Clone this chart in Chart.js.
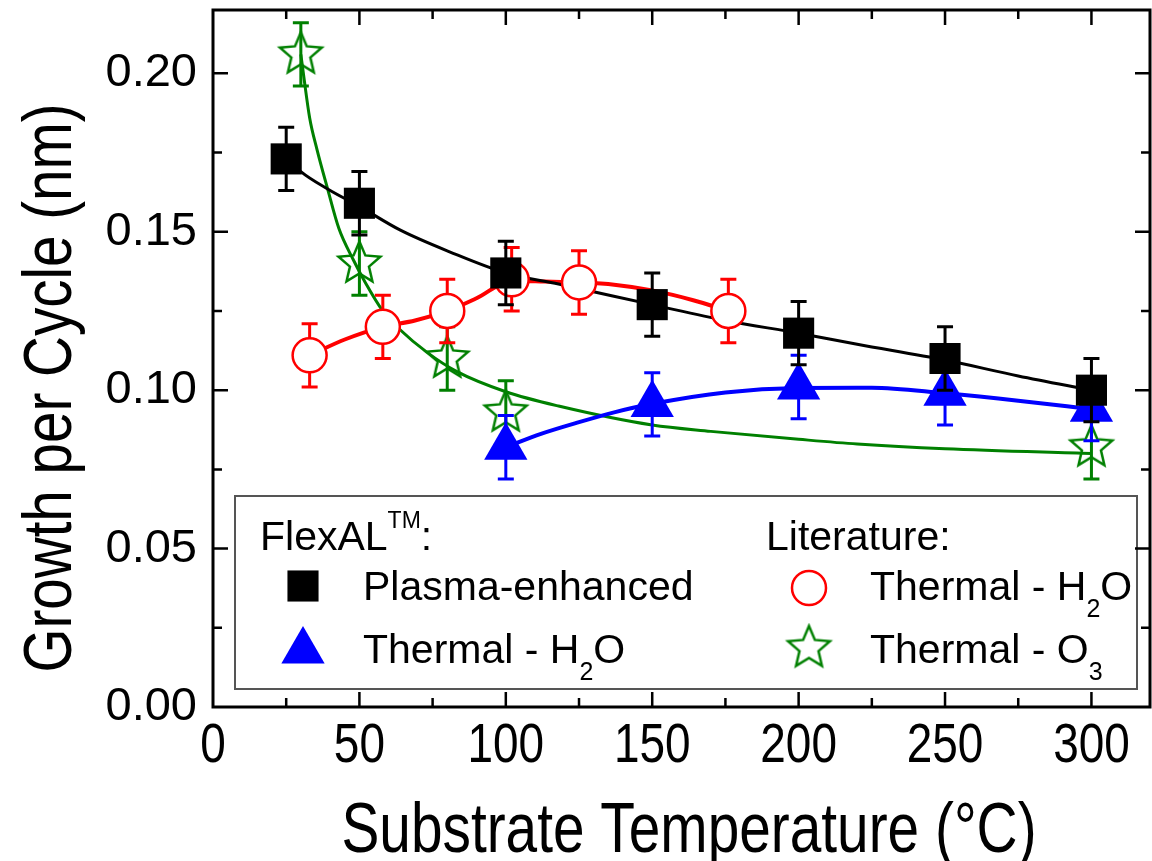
<!DOCTYPE html>
<html>
<head>
<meta charset="utf-8">
<title>Growth per Cycle vs Substrate Temperature</title>
<script src="https://cdn.jsdelivr.net/npm/chart.js@4.4.1/dist/chart.umd.min.js"></script>
<style>
    html, body { margin: 0; padding: 0; background: #fff; }
    #chart { display: block; }
</style>
</head>
<body>
<canvas id="chart" width="1152" height="861"></canvas>
<script>
// Axis ticks
const xTicks = [0, 50, 100, 150, 200, 250, 300];
const yTicks = [0.00, 0.05, 0.10, 0.15, 0.20];
const xTitle = 'Substrate Temperature (°C)';
const yTitle = 'Growth per Cycle (nm)';

// FlexAL - plasma-enhanced (black squares)
const tempPE = [25, 50, 100, 150, 200, 250, 300];
const gpcPE = [0.173, 0.159, 0.137, 0.127, 0.118, 0.110, 0.100];
const errPE = [0.010, 0.010, 0.010, 0.010, 0.010, 0.010, 0.010];

// FlexAL - thermal H2O (blue triangles)
const tempTH = [100, 150, 200, 250, 300];
const gpcTH = [0.082, 0.0955, 0.101, 0.099, 0.094];
const errTH = [0.010, 0.010, 0.010, 0.010, 0.010];

// Literature - thermal H2O (red circles)
const tempLitH2O = [33, 58, 80, 102, 125, 176];
const gpcLitH2O = [0.111, 0.120, 0.125, 0.135, 0.134, 0.125];
const errLitH2O = [0.010, 0.010, 0.010, 0.010, 0.010, 0.010];

// Literature - thermal O3 (green stars)
const tempLitO3 = [30, 50, 80, 100, 300];
const gpcLitO3 = [0.206, 0.140, 0.110, 0.093, 0.082];
const errLitO3 = [0.010, 0.010, 0.010, 0.010, 0.010];

// Guide curves
const fitPE_T = [25, 30, 39, 50, 64, 81, 100, 118, 150, 175, 200, 220, 250, 275, 300];
const fitPE_G = [0.1735, 0.169, 0.1636, 0.158, 0.1505, 0.1436, 0.137, 0.1335, 0.127, 0.122, 0.118, 0.1145, 0.1095, 0.1045, 0.100];
const fitTH_T = [100, 112, 125, 137, 150, 175, 200, 225, 250, 275, 300];
const fitTH_G = [0.082, 0.0862, 0.0899, 0.0930, 0.0957, 0.0993, 0.1007, 0.1008, 0.099, 0.0967, 0.094];
const fitLitH2O_T = [33, 45, 58, 69, 80, 90, 102, 113, 125, 137, 150, 164, 176];
const fitLitH2O_G = [0.111, 0.116, 0.120, 0.122, 0.125, 0.129, 0.1345, 0.1343, 0.134, 0.1333, 0.1315, 0.1284, 0.125];
const fitLitO3_T = [30, 31, 33, 35.5, 39, 43, 48, 52, 58, 64, 73, 83, 100, 118, 150, 170, 200, 220, 250, 300];
const fitLitO3_G = [0.206, 0.199, 0.186, 0.176, 0.164, 0.151, 0.141, 0.134, 0.125, 0.119, 0.112, 0.106, 0.0995, 0.095, 0.089, 0.087, 0.0845, 0.083, 0.0815, 0.080];

const SANS = '"Liberation Sans", Arial, sans-serif';
const BLACK = '#000000', BLUE = '#0000ff', RED = '#ff0000', GREEN = '#008000';

const toPoints = (xs, ys) => xs.map((x, i) => ({ x: x, y: ys[i] }));

// 5-point open star used as point style
function makeStar(rOuter, rInner, color, lw) {
    const size = Math.ceil(2 * (rOuter + lw)) + 2;
    const c = document.createElement('canvas');
    c.width = size;
    c.height = size;
    const g = c.getContext('2d');
    g.translate(size / 2, size / 2);
    g.beginPath();
    for (let i = 0; i < 10; i++) {
        const r = i % 2 ? rInner : rOuter;
        const a = -Math.PI / 2 + i * Math.PI / 5;
        g.lineTo(r * Math.cos(a), r * Math.sin(a));
    }
    g.closePath();
    g.lineWidth = lw;
    g.strokeStyle = color;
    g.stroke();
    return c;
}
const starImg = makeStar(22, 10, GREEN, 2.5);

function fitLine(xs, ys, color, width) {
    return {
        data: toPoints(xs, ys),
        showLine: true,
        borderColor: color,
        borderWidth: width,
        pointRadius: 0,
        cubicInterpolationMode: 'monotone',
        order: 10
    };
}

function markers(xs, ys, errs, opts) {
    return Object.assign({
        data: toPoints(xs, ys),
        errs: errs,
        showLine: false
    }, opts);
}

/**
 * Error bars drawn just before each marker dataset
 */
const errorBars = {
    id: 'errorBars',
    beforeDatasetDraw(chart, args) {
        const ds = chart.data.datasets[args.index];
        if (!ds.errs) return;
        const { ctx } = chart;
        const x = chart.scales.x, y = chart.scales.y;
        ctx.save();
        ctx.strokeStyle = ds.errColor;
        ctx.lineWidth = 3;
        ds.data.forEach((p, i) => {
            const px = x.getPixelForValue(p.x);
            const top = y.getPixelForValue(p.y + ds.errs[i]);
            const bot = y.getPixelForValue(p.y - ds.errs[i]);
            ctx.beginPath();
            ctx.moveTo(px, top); ctx.lineTo(px, bot);
            ctx.moveTo(px - 8, top); ctx.lineTo(px + 8, top);
            ctx.moveTo(px - 8, bot); ctx.lineTo(px + 8, bot);
            ctx.stroke();
        });
        ctx.restore();
    }
};

// text with sub/superscripts: parts = [[text, 'sub'|'sup'|undefined], ...]
function drawRich(ctx, parts, x, y) {
    parts.forEach(([t, kind]) => {
        let dy = 0;
        if (kind === 'sub') { ctx.font = '25px ' + SANS; dy = 17; }
        else if (kind === 'sup') { ctx.font = '23px ' + SANS; dy = -22; }
        else ctx.font = '41px ' + SANS;
        ctx.fillText(t, x, y + dy);
        x += ctx.measureText(t).width;
    });
}

// condensed text (the figure uses a narrow face)
function drawNarrow(ctx, text, x, y, size, sx, rot) {
    ctx.save();
    ctx.translate(x, y);
    if (rot) ctx.rotate(rot);
    ctx.scale(sx, 1);
    ctx.font = size + 'px ' + SANS;
    ctx.fillStyle = '#000';
    ctx.textAlign = 'center';
    ctx.textBaseline = 'alphabetic';
    ctx.fillText(text, 0, 0);
    ctx.restore();
}

/**
 * Boxed legend inside the plot, frame with inward ticks, x labels and titles
 */
const frameAndLegend = {
    id: 'frameAndLegend',
    afterDraw(chart) {
        const { ctx, chartArea: a } = chart;
        const x = chart.scales.x, y = chart.scales.y;
        const H = Chart.helpers;

        // legend
        ctx.save();
        ctx.fillStyle = '#fff';
        ctx.fillRect(235, 496, 902, 193);
        ctx.strokeStyle = '#555';
        ctx.lineWidth = 2;
        ctx.strokeRect(235, 496, 902, 193);
        ctx.fillStyle = '#000';
        ctx.textBaseline = 'alphabetic';
        ctx.textAlign = 'left';
        drawRich(ctx, [['FlexAL'], ['TM', 'sup'], [':']], 260, 550);
        drawRich(ctx, [['Literature:']], 766, 550);
        drawRich(ctx, [['Plasma-enhanced']], 363, 600);
        drawRich(ctx, [['Thermal - H'], ['2', 'sub'], ['O']], 363, 663);
        drawRich(ctx, [['Thermal - H'], ['2', 'sub'], ['O']], 870, 600);
        drawRich(ctx, [['Thermal - O'], ['3', 'sub']], 870, 663);

        ctx.fillStyle = BLACK;
        H.drawPoint(ctx, { pointStyle: 'rect', radius: 22, rotation: 0, borderWidth: 0 }, 303, 586);
        ctx.fillStyle = BLUE;
        H.drawPoint(ctx, { pointStyle: 'triangle', radius: 25, rotation: 0, borderWidth: 0 }, 303, 651);
        ctx.fillStyle = '#fff';
        ctx.strokeStyle = RED;
        ctx.lineWidth = 2.5;
        H.drawPoint(ctx, { pointStyle: 'circle', radius: 17, rotation: 0, borderWidth: 2.5 }, 809, 588);
        ctx.drawImage(starImg, 809 - starImg.width / 2, 648 - starImg.height / 2);
        ctx.restore();

        // frame
        ctx.save();
        ctx.strokeStyle = '#000';
        ctx.lineWidth = 3;
        ctx.strokeRect(a.left, a.top, a.right - a.left, a.bottom - a.top);
        ctx.lineWidth = 2.5;
        ctx.beginPath();
        const major = 15, minor = 9;
        for (let v = 25; v <= 320; v += 25) {
            const len = v % 50 === 0 ? major : minor;
            const px = x.getPixelForValue(v);
            ctx.moveTo(px, a.bottom); ctx.lineTo(px, a.bottom - len);
            ctx.moveTo(px, a.top); ctx.lineTo(px, a.top + len);
        }
        for (let k = 1; k <= 8; k++) {
            const len = k % 2 === 0 ? major : minor;
            const py = y.getPixelForValue(k * 0.025);
            ctx.moveTo(a.left, py); ctx.lineTo(a.left + len, py);
            ctx.moveTo(a.right, py); ctx.lineTo(a.right - len, py);
        }
        ctx.stroke();
        ctx.restore();

        // x tick labels and axis titles
        xTicks.forEach(v => drawNarrow(ctx, String(v), x.getPixelForValue(v), 762, 56, 0.82));
        drawNarrow(ctx, xTitle, 689, 852, 71, 0.80);
        drawNarrow(ctx, yTitle, 71, 388, 69, 0.82, -Math.PI / 2);
    }
};

const datasets = [
    fitLine(fitPE_T, fitPE_G, BLACK, 3),
    fitLine(fitTH_T, fitTH_G, BLUE, 4),
    fitLine(fitLitH2O_T, fitLitH2O_G, RED, 4),
    fitLine(fitLitO3_T, fitLitO3_G, GREEN, 3),
    markers(tempLitO3, gpcLitO3, errLitO3, {
        errColor: GREEN, pointStyle: starImg, pointRadius: 22, order: 4
    }),
    markers(tempLitH2O, gpcLitH2O, errLitH2O, {
        errColor: RED, pointStyle: 'circle', pointRadius: 17,
        backgroundColor: '#fff', borderColor: RED, borderWidth: 2.5, order: 3
    }),
    markers(tempTH, gpcTH, errTH, {
        errColor: BLUE, pointStyle: 'triangle', pointRadius: 25,
        backgroundColor: BLUE, borderColor: BLUE, borderWidth: 0, order: 2
    }),
    markers(tempPE, gpcPE, errPE, {
        errColor: BLACK, pointStyle: 'rect', pointRadius: 22,
        backgroundColor: BLACK, borderColor: BLACK, borderWidth: 0, order: 1
    })
];

new Chart(document.getElementById('chart').getContext('2d'), {
    type: 'scatter',
    data: { datasets: datasets },
    plugins: [errorBars, frameAndLegend],
    options: {
        responsive: false,
        animation: false,
        layout: {
            autoPadding: false,
            padding: { top: 10, right: 2, left: 0, bottom: 0 }
        },
        plugins: {
            legend: { display: false },
            tooltip: { enabled: false }
        },
        scales: {
            x: {
                type: 'linear',
                min: 0,
                max: 320,
                afterBuildTicks: s => { s.ticks = xTicks.map(v => ({ value: v })); },
                afterFit: s => { s.height = 154; s.paddingLeft = 0; s.paddingRight = 0; },
                grid: { display: false, drawTicks: false },
                border: { display: false },
                ticks: { display: false }
            },
            y: {
                type: 'linear',
                min: 0,
                max: 0.22,
                afterBuildTicks: s => { s.ticks = yTicks.map(v => ({ value: v })); },
                afterFit: s => { s.width = 213; s.paddingTop = 0; s.paddingBottom = 0; },
                grid: { display: false, drawTicks: false },
                border: { display: false },
                ticks: {
                    color: '#000',
                    padding: 16,
                    autoSkip: false,
                    font: { family: SANS, size: 47 },
                    callback: v => v.toFixed(2)
                }
            }
        }
    }
});
</script>
</body>
</html>
